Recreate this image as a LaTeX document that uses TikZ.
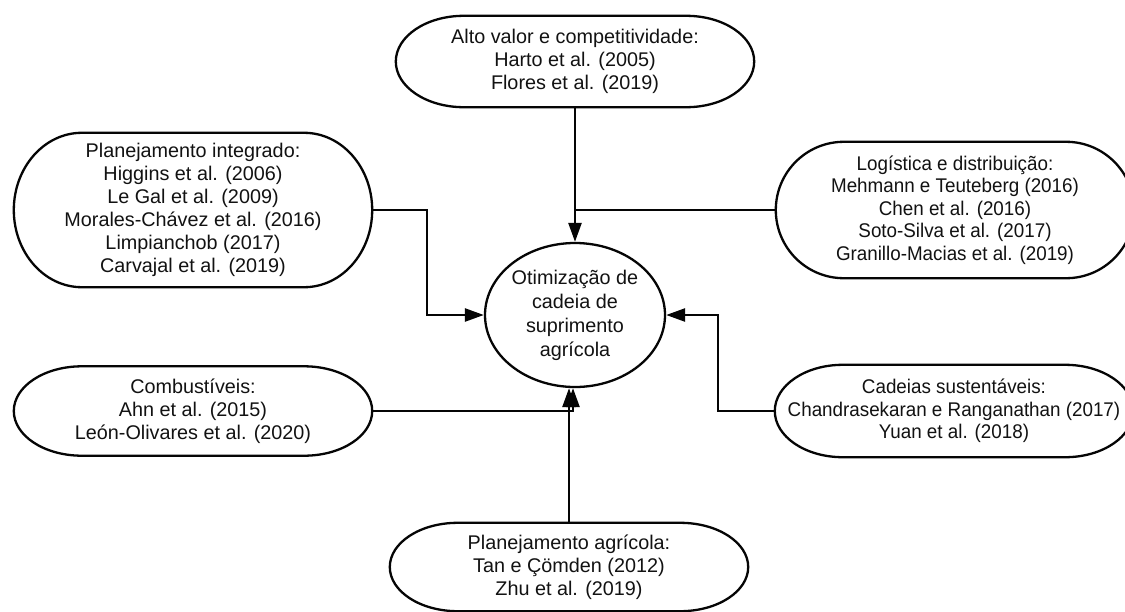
\documentclass[tikz,border=0pt]{standalone}
\usepackage{fontspec}
\setmainfont{Liberation Sans}
\newfontfamily\narrowsans[FakeStretch=0.95]{Liberation Sans}
\usetikzlibrary{shapes.geometric,arrows.meta,calc}

\definecolor{inkc}{RGB}{18,18,18}
\definecolor{linec}{RGB}{5,5,5}

\tikzset{
  box/.style={rectangle, inner sep=0pt, minimum width=358pt, align=center,
    text=inkc, font=\fontsize{19.8}{23}\selectfont},
  narrowbox/.style={box, font=\narrowsans\fontsize{19.8}{22.6}\selectfont},
  hub/.style={ellipse, draw=linec, line width=2.3pt, minimum width=180pt,
    minimum height=144pt, inner sep=0pt, align=center, text=inkc,
    font=\fontsize{19.8}{24}\selectfont},
  outline/.style={draw=linec, line width=2.3pt},
  link/.style={draw=linec, line width=2.5pt},
  feed/.style={link, -{Triangle[length=19pt,width=13pt]}},
}

% stadium-like outline with half-ellipse ends around a box node
\newcommand\pillpath[1]{%
  \draw[outline] let \p1=(#1.north), \p2=(#1.south), \n1={0.5*(\y1-\y2)} in
    ([xshift=68pt]#1.north west) -- ([xshift=-68pt]#1.north east)
    arc[start angle=90, end angle=-90, x radius=68pt, y radius=\n1]
    -- ([xshift=68pt]#1.south west)
    arc[start angle=270, end angle=90, x radius=68pt, y radius=\n1]
    -- cycle;}

\begin{document}
\begin{tikzpicture}[x=1pt, y=-1pt]
\useasboundingbox (0,0) rectangle (1125,611);
\fill[white] (0,0) rectangle (1125,611);

% central topic
\node[hub] (hub) at (575,315) {Otimização de\\cadeia de\\suprimento\\agrícola};

% themes with their references
\node[box, minimum height=91pt] (alto) at (575,61.5)
  {Alto valor e competitividade:\\Harto et al. (2005)\\Flores et al. (2019)};
\node[box, minimum height=154pt] (plan) at (193,210)
  {Planejamento integrado:\\Higgins et al. (2006)\\Le Gal et al. (2009)\\Morales-Chávez et al. (2016)\\Limpianchob (2017)\\Carvajal et al. (2019)};
\node[narrowbox, minimum height=136pt] (logi) at (955,210)
  {Logística e distribuição:\\Mehmann e Teuteberg (2016)\\Chen et al. (2016)\\Soto-Silva et al. (2017)\\Granillo-Macias et al. (2019)};
\node[narrowbox, minimum height=92pt] (cade) at (954,411)
  {Cadeias sustentáveis:\\Chandrasekaran e Ranganathan (2017)\\Yuan et al. (2018)};
\node[box, minimum height=89pt] (comb) at (193,411)
  {Combustíveis:\\Ahn et al. (2015)\\León-Olivares et al. (2020)};
\node[box, minimum height=88pt] (agri) at (569,567)
  {Planejamento agrícola:\\Tan e Çömden (2012)\\Zhu et al. (2019)};

\pillpath{alto}
\pillpath{plan}
\pillpath{logi}
\pillpath{cade}
\pillpath{comb}
\pillpath{agri}

% connectors into the central topic
\draw[feed] (alto.south) -- (alto.south |- hub.north);
\draw[link] (logi.west) -- (logi.west -| alto.south);
\draw[feed] (plan.east) -- ++(55,0) |- (hub.west);
\draw[feed] (cade.west) -- ++(-57,0) |- (hub.east);
\draw[feed] (comb.east) -| ([xshift=-2pt]hub.south);
\draw[feed] (agri.north) -- (agri.north |- hub.south);
\end{tikzpicture}
\end{document}
